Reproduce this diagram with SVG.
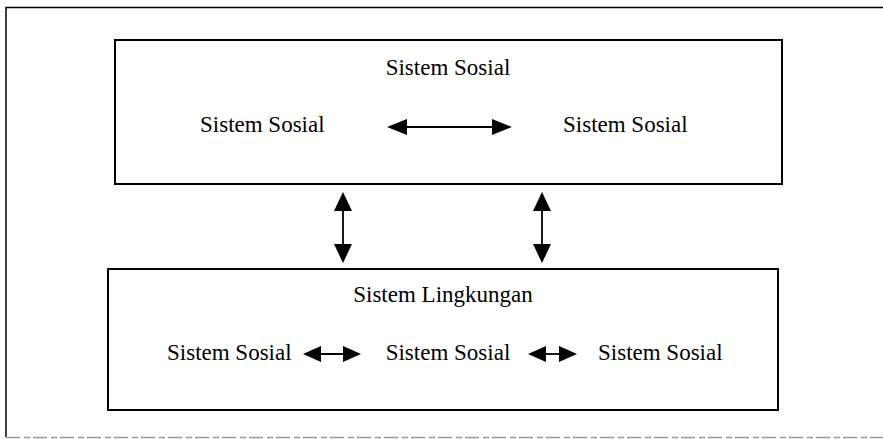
<svg xmlns="http://www.w3.org/2000/svg" width="883" height="439" viewBox="0 0 883 439">
<style>
text{font-family:"Liberation Serif","Times New Roman",serif;font-size:23px;fill:#000}
.box{fill:none;stroke:#000;stroke-width:2}
.ln{stroke:#000;stroke-width:1.8;fill:none}
.hd{fill:#000}
</style>
<rect width="883" height="439" fill="#fff"/>
<g id="frame">
<path d="M6 437 V7.5 H890" fill="none" stroke="#000" stroke-width="1.5"/>
<path d="M6 437.5 H890" fill="none" stroke="#999" stroke-width="1.5" stroke-dasharray="14 4 6 3"/>
</g>
<g id="top-system">
<rect class="box" x="115" y="40" width="667" height="144"/>
<text x="448" y="75" text-anchor="middle">Sistem Sosial</text>
</g>
<g id="top-left"><text x="200" y="132">Sistem Sosial</text></g>
<g id="top-right"><text x="563" y="132">Sistem Sosial</text></g>
<g id="bottom-system">
<rect class="box" x="108" y="269" width="670" height="141"/>
<text x="443" y="302" text-anchor="middle">Sistem Lingkungan</text>
</g>
<g id="bottom-left"><text x="167" y="360">Sistem Sosial</text></g>
<g id="bottom-middle"><text x="448" y="360" text-anchor="middle">Sistem Sosial</text></g>
<g id="bottom-right"><text x="598" y="360">Sistem Sosial</text></g>
<g id="connectors">
<line class="ln" x1="400" y1="127" x2="500" y2="127"/>
<polygon class="hd" points="387,127 407,119 407,135"/>
<polygon class="hd" points="512,127 492,119 492,135"/>
<line class="ln" x1="343" y1="205" x2="343" y2="250"/>
<polygon class="hd" points="343,192 334,211 352,211"/>
<polygon class="hd" points="343,263 334,244 352,244"/>
<line class="ln" x1="542" y1="205" x2="542" y2="250"/>
<polygon class="hd" points="542,192 533,211 551,211"/>
<polygon class="hd" points="542,263 533,244 551,244"/>
<line class="ln" x1="315" y1="354" x2="350" y2="354"/>
<polygon class="hd" points="303,354 321,346 321,362"/>
<polygon class="hd" points="361,354 343,346 343,362"/>
<line class="ln" x1="540" y1="354" x2="566" y2="354"/>
<polygon class="hd" points="528,354 546,346 546,362"/>
<polygon class="hd" points="577,354 559,346 559,362"/>
</g>
</svg>
